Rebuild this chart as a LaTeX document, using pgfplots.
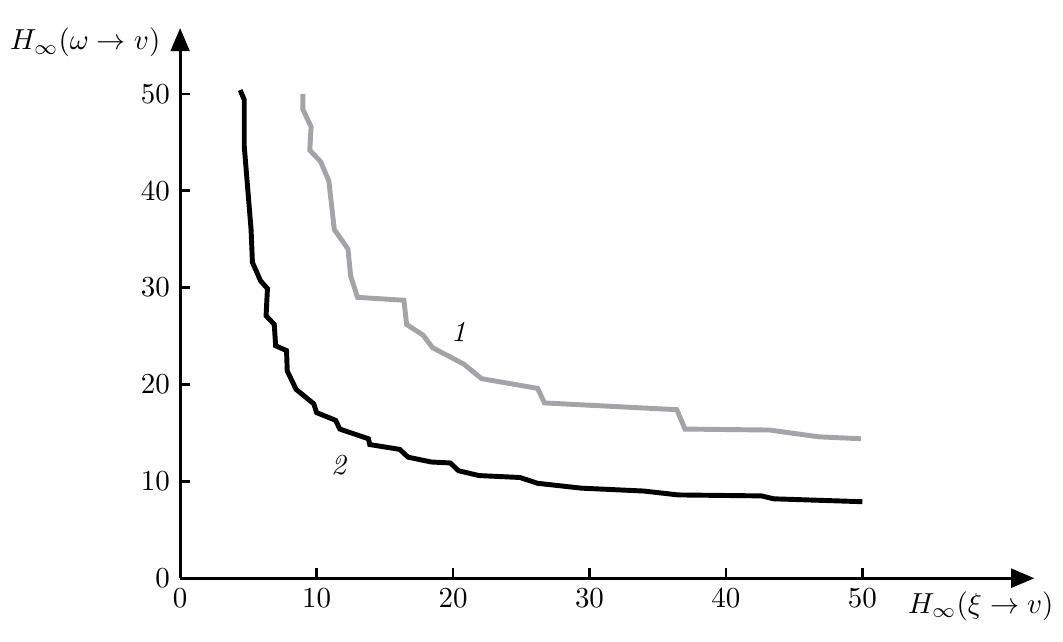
\documentclass[border=0pt]{standalone}
\usepackage{pgfplots}
\pgfplotsset{compat=1.18}
\usetikzlibrary{arrows.meta}
\definecolor{curvegray}{RGB}{163,164,168}
\begin{document}
\begin{tikzpicture}
\begin{axis}[
  scale only axis,
  width=295pt, height=190pt,
  xmin=0, xmax=62.6, ymin=0, ymax=56.8,
  axis lines=left,
  axis line style={line width=1pt,-{Triangle[length=8pt,width=6.5pt]}},
  xtick={0,10,20,30,40,50}, ytick={0,10,20,30,40,50},
  tick style={line width=0.9pt,black},
  tick align=inside,
  major tick length=3.5pt,
  clip=false,
]
\addplot[curvegray, line width=1.7pt] coordinates {
(9.0,50.0) (9.0,48.4) (9.6,46.6) (9.5,44.2) (10.3,43.0) (10.9,41.0)
(11.3,36.0) (12.3,34.0) (12.5,31.2) (13.0,29.0) (16.4,28.7) (16.6,26.2)
(17.8,25.1) (18.5,23.8) (20.8,22.1) (22.1,20.6) (26.2,19.6) (26.7,18.1)
(36.4,17.4) (37.0,15.4) (43.2,15.3) (46.8,14.6) (49.9,14.4)
};
\addplot[black, line width=1.7pt] coordinates {
(4.4,50.4) (4.7,49.4) (4.7,44.6) (5.2,36.0) (5.3,32.6) (5.9,30.7)
(6.4,29.9) (6.3,27.1) (6.9,26.2) (7.0,24.0) (7.8,23.5) (7.85,21.4)
(8.5,19.5) (9.8,18.0) (10.0,17.1) (11.4,16.3) (11.7,15.4) (13.8,14.4)
(13.9,13.8) (16.1,13.3) (16.7,12.5) (18.4,12.0) (19.8,11.9) (20.4,11.1)
(21.9,10.6) (24.9,10.4) (26.2,9.8) (29.4,9.3) (34.0,9.0) (36.5,8.6)
(42.6,8.5) (43.5,8.2) (50.0,7.9)
};
\node at (axis cs:20.4,25.4) {\itshape 1};
\node at (axis cs:11.6,11.7) {\itshape 2};
\node[anchor=east] at (axis cs:-0.7,55.3) {$H_\infty(\omega\to v)$};
\node[anchor=west] at (axis cs:52.6,-2.9) {$H_\infty(\xi\to v)$};
\path (axis cs:-13.2,-6.5) (axis cs:64.5,59.7);
\end{axis}
\end{tikzpicture}
\end{document}
